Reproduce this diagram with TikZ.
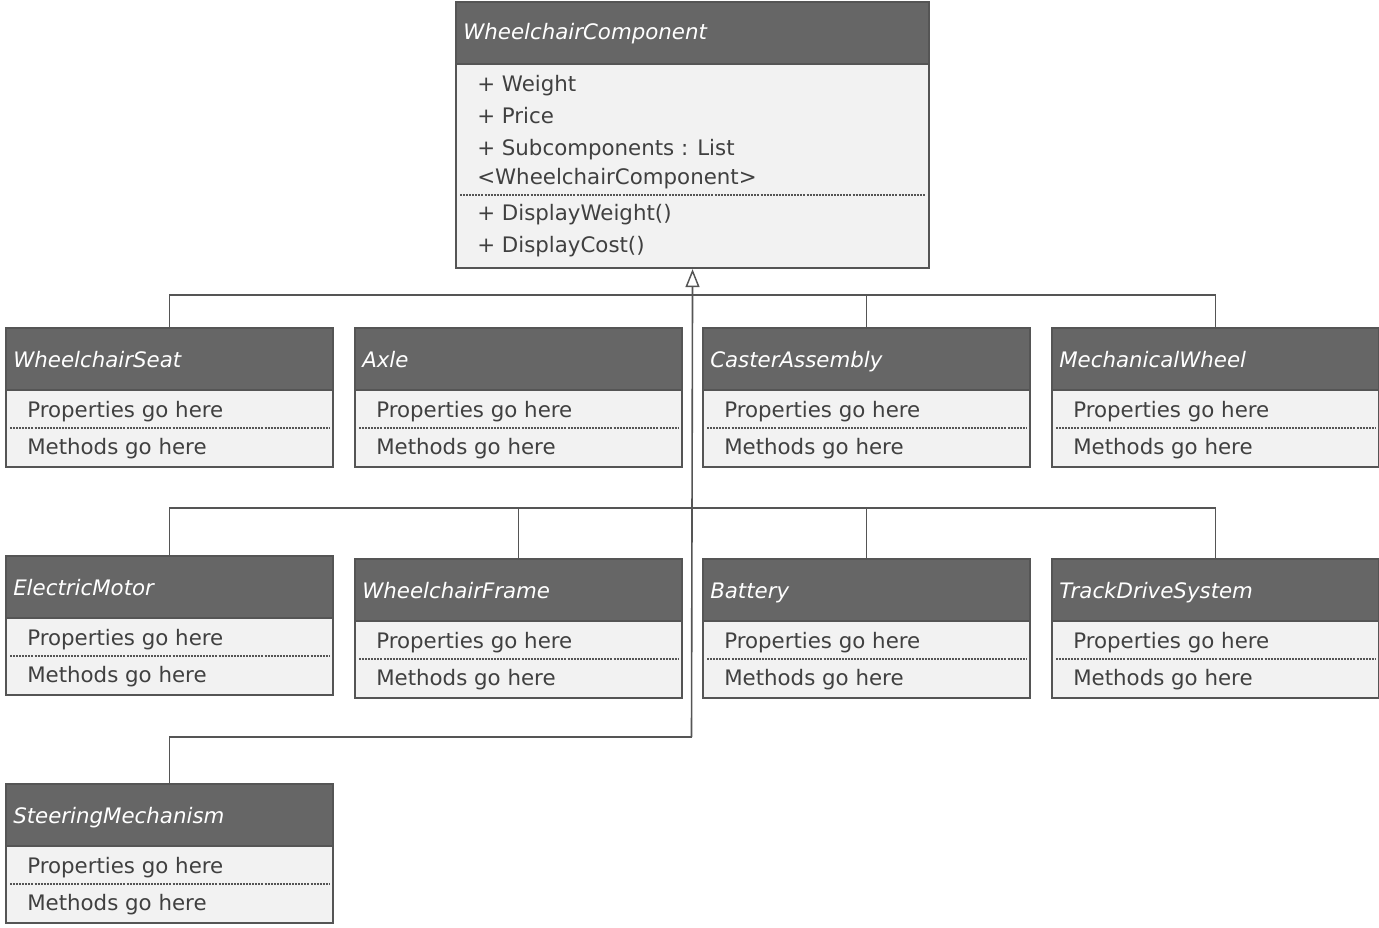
\documentclass[tikz,border=0pt]{standalone}
\usepackage{fontspec}
\setmainfont{DejaVu Sans}
\usetikzlibrary{arrows.meta,calc}
\definecolor{hdr}{HTML}{666666}
\definecolor{bdy}{HTML}{F2F2F2}
\definecolor{edgec}{HTML}{555555}
\definecolor{txt}{HTML}{404040}
\tikzset{
  x=0.75pt, y=-0.75pt,
  bodybox/.style={draw=edgec, fill=bdy, line width=1.6pt, inner sep=0pt,
    minimum width=327*0.75pt, minimum height=139*0.75pt},
  headbox/.style={draw=edgec, fill=hdr, line width=1.6pt, inner sep=0pt,
    minimum width=327*0.75pt, minimum height=62*0.75pt},
  titletext/.style={anchor=base west, inner sep=0pt, text=white, font=\fontsize{16}{19}\selectfont\itshape},
  bodytext/.style={anchor=base west, inner sep=0pt, text=txt, font=\fontsize{16}{19}\selectfont},
  sepline/.style={draw=edgec, line width=0.8pt, dash pattern=on 1.5pt off 0.8pt},
  conn/.style={draw=edgec, line width=1.2pt},
  genarrow/.style={conn, -{Triangle[open, length=13.5pt, width=10.5pt, line width=1.1pt]}},
}
\newcommand\umlclass[4]{%
  \node[bodybox, anchor=north west] (#1) at (#2,#3) {};
  \node[headbox, anchor=north west] (#1-h) at (#2,#3) {};
  \node[titletext] (#1-t) at ($(#1.north west)+(8,40)$) {#4};
  \node[bodytext] (#1-p) at ($(#1.north west)+(22,90)$) {Properties go here};
  \draw[sepline] ($(#1.north west)+(5,101)$) -- ($(#1.north east)+(-5,101)$);
  \node[bodytext] (#1-m) at ($(#1.north west)+(22,127)$) {Methods go here};
}
\begin{document}
\begin{tikzpicture}
\useasboundingbox (0,0) rectangle (1379,928);
% top class
\node[bodybox, minimum width=473*0.75pt, minimum height=266*0.75pt, anchor=north west] (top) at (455,1) {};
\node[headbox, minimum width=473*0.75pt, anchor=north west] (top-h) at (455,1) {};
\node[titletext] (top-t) at ($(top.north west)+(8,38)$) {WheelchairComponent};
\node[bodytext] (top-a1) at ($(top.north west)+(22,90)$) {+ Weight};
\node[bodytext] (top-a2) at ($(top.north west)+(22,122)$) {+ Price};
\node[bodytext] (top-a3) at ($(top.north west)+(22,154)$) {+ Subcomponents : List};
\node[bodytext] (top-a4) at ($(top.north west)+(22,183)$) {<WheelchairComponent>};
\draw[sepline] ($(top.north west)+(5,194)$) -- ($(top.north east)+(-5,194)$);
\node[bodytext] (top-m1) at ($(top.north west)+(22,219)$) {+ DisplayWeight()};
\node[bodytext] (top-m2) at ($(top.north west)+(22,251)$) {+ DisplayCost()};
% row 1
\umlclass{seat}{5}{327}{WheelchairSeat}
\umlclass{axle}{354}{327}{Axle}
\umlclass{caster}{702}{327}{CasterAssembly}
\umlclass{mech}{1051}{327}{MechanicalWheel}
% row 2
\umlclass{motor}{5}{555}{ElectricMotor}
\umlclass{frame}{354}{558}{WheelchairFrame}
\umlclass{battery}{702}{558}{Battery}
\umlclass{track}{1051}{558}{TrackDriveSystem}
% row 3
\umlclass{steer}{5}{783}{SteeringMechanism}
% junctions
\coordinate (j1) at (691.5,295);
\coordinate (j2) at (691.5,508);
\coordinate (j3) at (691.5,737);
% connectors
\draw[conn] (seat.north) |- (j1);
\draw[conn] (caster.north) |- (j1);
\draw[conn] (mech.north) |- (j1);
\draw[conn] (motor.north) |- (j2);
\draw[conn] (frame.north) |- (j2);
\draw[conn] (battery.north) |- (j2);
\draw[conn] (track.north) |- (j2);
\draw[conn] (steer.north) |- (j3);
\draw[genarrow] (j3) -- (top.south);
\end{tikzpicture}
\end{document}
